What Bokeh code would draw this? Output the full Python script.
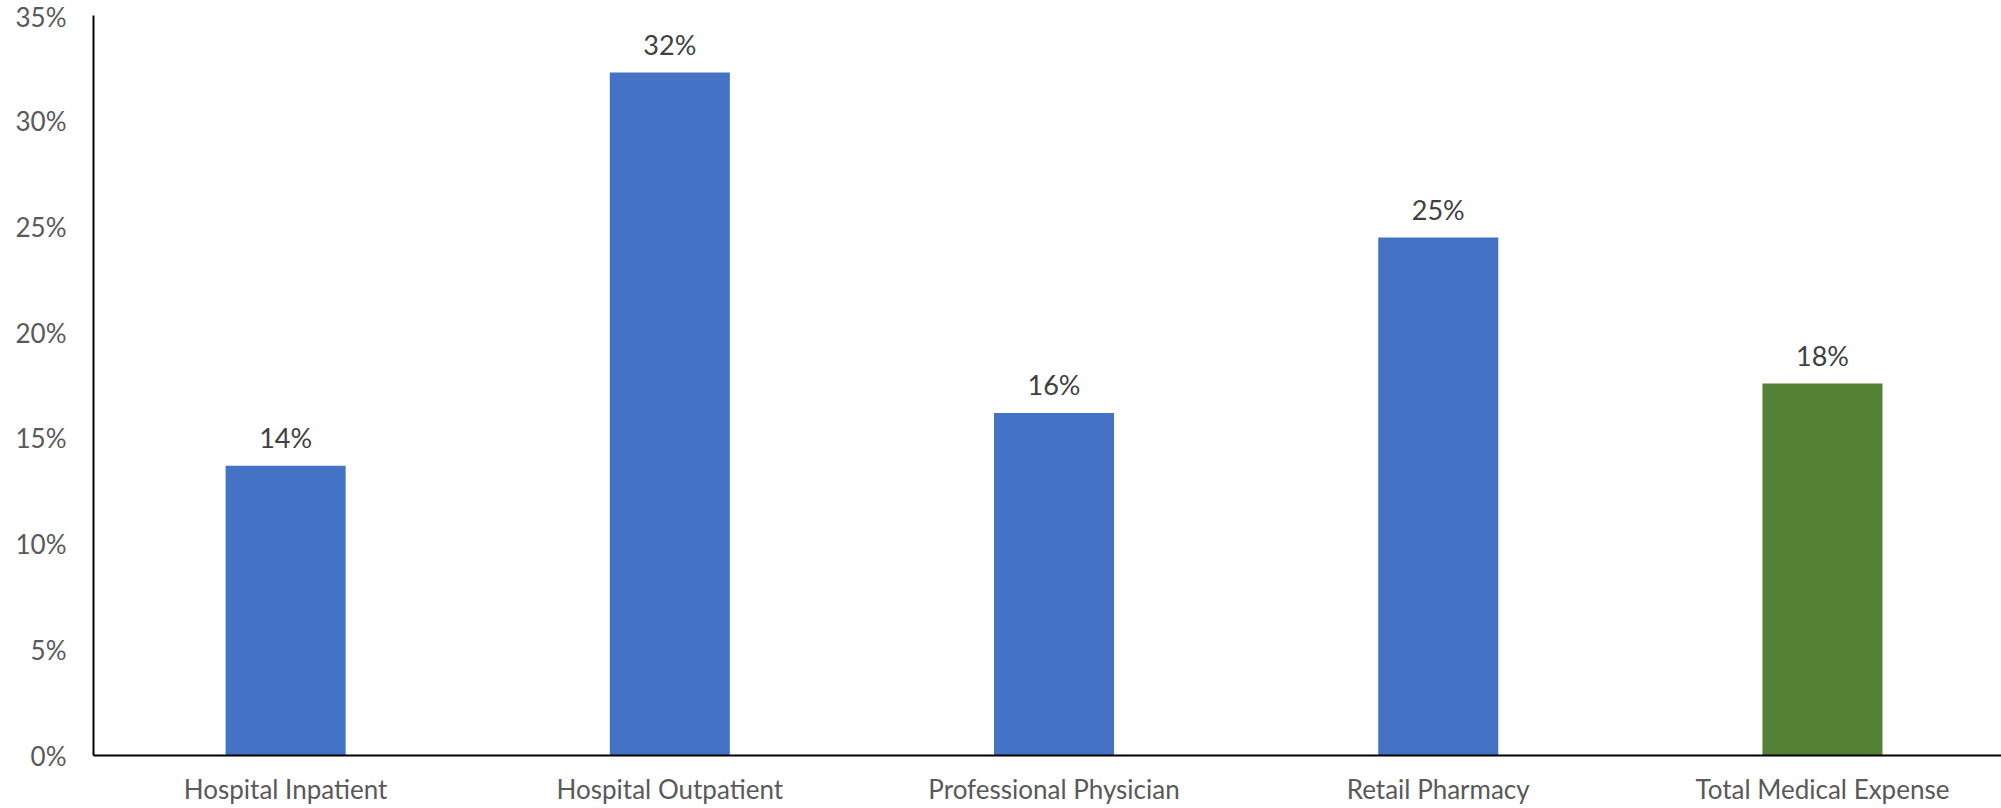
from bokeh.plotting import figure
from bokeh.models import ColumnDataSource, FixedTicker, NumeralTickFormatter, Range1d
from bokeh.core.properties import value
from bokeh.embed import file_html
from bokeh.resources import INLINE

categories = ["Hospital Inpatient", "Hospital Outpatient", "Professional Physician",
              "Retail Pharmacy", "Total Medical Expense"]
values = [0.137, 0.323, 0.162, 0.245, 0.176]
labels = ["14%", "32%", "16%", "25%", "18%"]
colors = ["#4472C4", "#4472C4", "#4472C4", "#4472C4", "#548235"]
y_ticks = [0, 0.05, 0.10, 0.15, 0.20, 0.25, 0.30, 0.35]

xs = list(range(len(categories)))
src = ColumnDataSource(dict(x=xs, top=values, label=labels, color=colors))

FONT = "Lato"

p = figure(width=2001, height=808, output_backend="svg", toolbar_location=None,
           x_range=Range1d(-0.5, 4.466), y_range=Range1d(0, 0.35),
           min_border_left=93, min_border_right=0, min_border_top=15, min_border_bottom=53)
p.outline_line_color = None
p.background_fill_color = "white"
p.border_fill_color = "white"
p.xgrid.grid_line_color = None
p.ygrid.grid_line_color = None

p.vbar(x="x", top="top", bottom=0, width=0.3125, color="color", line_color=None, source=src)

p.text(x="x", y="top", text="label", source=src, text_align="center", text_baseline="middle",
       y_offset=-28, text_font=value(FONT), text_font_size="27px", text_color="#404040")

xa = p.xaxis[0]
xa.ticker = FixedTicker(ticks=xs)
xa.major_label_overrides = {i: c for i, c in enumerate(categories)}
xa.major_tick_line_color = None
xa.minor_tick_line_color = None
xa.major_tick_out = 0
xa.major_tick_in = 0
xa.axis_line_color = "black"
xa.axis_line_width = 2
xa.major_label_standoff = 17
xa.major_label_text_font = FONT
xa.major_label_text_font_size = "26px"
xa.major_label_text_color = "#595959"

ya = p.yaxis[0]
ya.ticker = FixedTicker(ticks=y_ticks)
ya.formatter = NumeralTickFormatter(format="0%")
ya.major_tick_line_color = None
ya.minor_tick_line_color = None
ya.major_tick_out = 0
ya.major_tick_in = 0
ya.axis_line_color = "black"
ya.axis_line_width = 2
ya.major_label_standoff = 27
ya.major_label_text_font = FONT
ya.major_label_text_font_size = "26px"
ya.major_label_text_color = "#595959"

open("out.html", "w").write(file_html(p, INLINE))
